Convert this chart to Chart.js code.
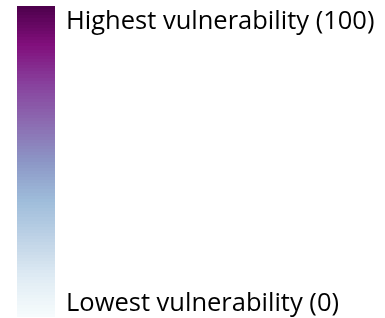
<!DOCTYPE html>
<html>
<head>
<meta charset="utf-8">
<script src="https://cdn.jsdelivr.net/npm/chart.js@4"></script>
<style>
  html, body { margin: 0; padding: 0; background: #ffffff; }
  #wrap { width: 385px; height: 318px; position: relative; }
</style>
</head>
<body>
<div id="wrap"><canvas id="c" width="385" height="318"></canvas></div>
<script>
// ---- data ----
const categories = ["Vulnerability"];
const rangeMin = [0];
const rangeMax = [100];
const tickValues = [0, 100];
const tickLabels = ["Lowest vulnerability (0)", "Highest vulnerability (100)"];
const colorStops = ["#f7fcfd", "#e0ecf4", "#bfd3e6", "#9ebcda", "#8c96c6", "#8c6bb1", "#88419d", "#810f7c", "#4d004b"];
const bandCount = 100;

// ---- helpers (style only) ----
function hexToRgb(h) {
  return [parseInt(h.slice(1, 3), 16), parseInt(h.slice(3, 5), 16), parseInt(h.slice(5, 7), 16)];
}
function rampColor(t) {
  const n = colorStops.length - 1;
  const p = Math.min(Math.max(t, 0), 1) * n;
  const i = Math.min(Math.floor(p), n - 1);
  const f = p - i;
  const a = hexToRgb(colorStops[i]), b = hexToRgb(colorStops[i + 1]);
  const c = a.map((v, k) => Math.round(v + (b[k] - v) * f));
  return "rgb(" + c.join(",") + ")";
}
function bandGradient(context) {
  const chart = context.chart;
  const ca = chart.chartArea;
  if (!ca) return colorStops[4];
  const y = chart.scales.y;
  const y0 = y.getPixelForValue(y.min);
  const y1 = y.getPixelForValue(y.max);
  const g = chart.ctx.createLinearGradient(0, y0, 0, y1);
  for (let i = 0; i < bandCount; i++) {
    const col = rampColor((i + 0.5) / bandCount);
    g.addColorStop(i / bandCount, col);
    g.addColorStop((i + 1) / bandCount, col);
  }
  return g;
}

const sideLabels = {
  id: "sideLabels",
  afterDraw(chart) {
    const ctx = chart.ctx;
    const ca = chart.chartArea;
    const y = chart.scales.y;
    ctx.save();
    ctx.fillStyle = "#000000";
    ctx.font = "25.5px 'Open Sans'";
    ctx.textAlign = "left";
    ctx.textBaseline = "alphabetic";
    const x = ca.right + 11;
    // highest label near top of bar
    ctx.fillText(tickLabels[1], x, y.getPixelForValue(tickValues[1]) + 23);
    // lowest label near bottom of bar
    ctx.fillText(tickLabels[0], x, y.getPixelForValue(tickValues[0]) - 6);
    ctx.restore();
  }
};

new Chart(document.getElementById("c"), {
  type: "bar",
  data: {
    labels: categories,
    datasets: [{
      data: categories.map((_, i) => [rangeMin[i], rangeMax[i]]),
      backgroundColor: bandGradient,
      borderWidth: 0,
      barPercentage: 1,
      categoryPercentage: 1
    }]
  },
  options: {
    responsive: false,
    animation: false,
    devicePixelRatio: 1,
    layout: { padding: { left: 17, right: 330, top: 6, bottom: 1 } },
    plugins: { legend: { display: false }, tooltip: { enabled: false } },
    scales: {
      x: { display: false },
      y: { display: false, min: 0, max: 100 }
    }
  },
  plugins: [sideLabels]
});
</script>
</body>
</html>
